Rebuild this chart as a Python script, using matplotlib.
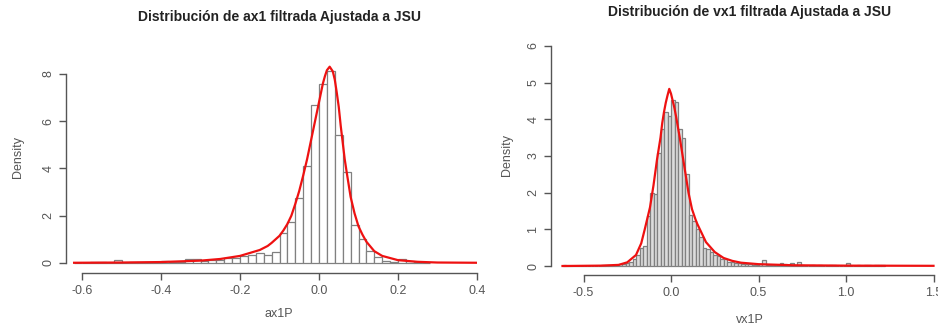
import numpy as np
import matplotlib
matplotlib.use("Agg")
from matplotlib import pyplot as plt

plt.rcParams['font.family'] = ['Liberation Sans', 'DejaVu Sans']

# ---- left panel: ax1P, bins of width 0.02 starting at -0.62
ax1_start = -0.62
ax1_width = 0.02
ax1_heights = [0.02, 0.01, 0.04, 0.03, 0.01, 0.11, 0.02, 0.03, 0.04, 0.04,
               0.06, 0.08, 0.03, 0.05, 0.18, 0.18, 0.10, 0.13, 0.12, 0.20,
               0.22, 0.30, 0.32, 0.42, 0.35, 0.45, 1.25, 1.74, 2.75, 4.12,
               6.70, 7.55, 8.10, 5.40, 3.85, 1.62, 1.00, 0.52, 0.27, 0.08,
               0.06, 0.15, 0.10, 0.03, 0.02]
ax1_fit_x = [-0.62, -0.5, -0.4, -0.3, -0.25, -0.2, -0.18, -0.15, -0.13, -0.12,
             -0.1, -0.09, -0.08, -0.07, -0.06, -0.05, -0.04, -0.03, -0.02, -0.01,
             0.0, 0.005, 0.01, 0.015, 0.02, 0.027, 0.035, 0.04, 0.045, 0.05,
             0.055, 0.06, 0.065, 0.07, 0.08, 0.09, 0.1, 0.11, 0.12, 0.14,
             0.16, 0.2, 0.25, 0.3, 0.4, 0.42]
ax1_fit_y = [0.01, 0.02, 0.04, 0.10, 0.17, 0.30, 0.40, 0.55, 0.72, 0.85,
             1.15, 1.38, 1.65, 2.00, 2.50, 3.05, 3.70, 4.40, 5.20, 6.00,
             6.80, 7.20, 7.60, 7.90, 8.15, 8.30, 8.10, 7.75, 7.20, 6.60,
             5.80, 5.10, 4.40, 3.85, 2.80, 2.10, 1.55, 1.20, 0.90, 0.50,
             0.30, 0.12, 0.05, 0.02, 0.01, 0.01]

# ---- right panel: vx1P, bins of width 0.02 starting at -0.62
vx1_start = -0.62
vx1_width = 0.02
vx1_heights = [0.02, 0.01, 0.01, 0.00, 0.01, 0.00, 0.01, 0.01, 0.00, 0.01,
               0.01, 0.02, 0.02, 0.03, 0.03, 0.04, 0.05, 0.06, 0.08, 0.12,
               0.20, 0.30, 0.50, 0.55, 1.35, 2.00, 1.95, 3.07, 3.73, 4.20,
               4.08, 4.52, 4.47, 3.73, 3.50, 2.50, 1.40, 1.22, 1.00, 0.78,
               0.50, 0.45, 0.38, 0.30, 0.28, 0.20, 0.18, 0.12, 0.10, 0.08,
               0.07, 0.06, 0.05, 0.05, 0.04, 0.04, 0.05, 0.15, 0.03, 0.02,
               0.02, 0.03, 0.08, 0.06, 0.02, 0.07, 0.02, 0.10, 0.02, 0.01,
               0.00, 0.02, 0.00, 0.02, 0.00, 0.00, 0.02, 0.02, 0.00, 0.00,
               0.00, 0.07, 0.00, 0.00, 0.02, 0.00, 0.02, 0.02, 0.00, 0.02,
               0.02, 0.02]
vx1_fit_x = [-0.62, -0.4, -0.3, -0.25, -0.2, -0.17, -0.15, -0.12, -0.1, -0.08,
             -0.06, -0.05, -0.04, -0.03, -0.02, -0.01, 0.0, 0.01, 0.02, 0.03,
             0.05, 0.06, 0.08, 0.1, 0.12, 0.14, 0.15, 0.17, 0.2, 0.25,
             0.3, 0.35, 0.4, 0.5, 0.7, 1.0, 1.5]
vx1_fit_y = [0.00, 0.01, 0.03, 0.10, 0.30, 0.62, 1.00, 1.60, 2.20, 2.90,
             3.50, 3.90, 4.20, 4.45, 4.65, 4.83, 4.70, 4.50, 4.30, 4.05,
             3.50, 3.20, 2.60, 2.00, 1.55, 1.27, 1.15, 0.95, 0.65, 0.38,
             0.22, 0.14, 0.09, 0.05, 0.02, 0.01, 0.005]

grey = '#555555'
W, H = 938, 327
fig = plt.figure(figsize=(9.38, 3.27), dpi=100)


def panel(px_left, px_right, px_top, px_bottom, xlim, ylim, start, width,
          heights, fx, fy, xticks, xtlabels, yticks, xspan, title, xlabel,
          title_xy, xlabel_xy, ylabel_xy, fill):
  ax = fig.add_axes([px_left/W, 1 - px_bottom/H,
                     (px_right - px_left)/W, (px_bottom - px_top)/H])
  lefts = start + width*np.arange(len(heights))
  ax.bar(lefts, heights, width=width, align='edge', color=fill,
         edgecolor='#808080', linewidth=0.9)
  ax.plot(fx, fy, color='#ee1111', linewidth=1.6, clip_on=True)
  ax.set_xlim(*xlim)
  ax.set_ylim(*ylim)
  for s in ['top', 'right']:
    ax.spines[s].set_visible(False)
  ax.spines['left'].set_bounds(yticks[0], yticks[-1])
  ax.spines['bottom'].set_bounds(*xspan)
  for s in ['left', 'bottom']:
    ax.spines[s].set_color(grey)
    ax.spines[s].set_linewidth(1.0)
  ax.set_xticks(xticks)
  ax.set_xticklabels(xtlabels)
  ax.set_yticks(yticks)
  ax.set_yticklabels([str(v) for v in yticks])
  ax.tick_params(axis='both', colors=grey, labelsize=9, length=5, width=1.0)
  ax.tick_params(axis='y', labelrotation=90)
  for lab in ax.get_yticklabels():
    lab.set_verticalalignment('center')
  fig.text(title_xy[0]/W, 1 - title_xy[1]/H, title, ha='center', va='center',
           fontsize=10, fontweight='bold', color='#222222')
  fig.text(xlabel_xy[0]/W, 1 - xlabel_xy[1]/H, xlabel, ha='center',
           va='center', fontsize=9, color=grey)
  fig.text(ylabel_xy[0]/W, 1 - ylabel_xy[1]/H, 'Density', ha='center',
           va='center', fontsize=9, color=grey, rotation=90)
  return ax


# left: -0.6 -> x=82 px, 0.4 -> x=477 px ; 0 -> y=263, 8 -> y=74
panel(66, 477, 55, 273,
      (-0.6 - 16/395, 0.4), (-10/23.65, 208/23.65),
      ax1_start, ax1_width, ax1_heights, ax1_fit_x, ax1_fit_y,
      [-0.6, -0.4, -0.2, 0.0, 0.2, 0.4], ['-0.6', '-0.4', '-0.2', '0.0', '0.2', '0.4'],
      [0, 2, 4, 6, 8], (-0.6, 0.4),
      'Distribución de ax1 filtrada Ajustada a JSU', 'ax1P',
      (279, 17), (279, 314), (18, 157), 'white')

# right: 0.0 -> x=671 px, 175 px per unit ; 0 -> y=266, 6 -> y=46
panel(551, 938, 40, 275,
      ((551 - 671)/175, (938 - 671)/175), (-9/36.67, 226/36.67),
      vx1_start, vx1_width, vx1_heights, vx1_fit_x, vx1_fit_y,
      [-0.5, 0.0, 0.5, 1.0, 1.5], ['-0.5', '0.0', '0.5', '1.0', '1.5'],
      [0, 1, 2, 3, 4, 5, 6], (-0.5, 1.5),
      'Distribución de vx1 filtrada Ajustada a JSU', 'vx1P',
      (750, 12), (750, 320), (507, 155), '#dcdcdc')

fig.savefig('out.png', dpi=100)
